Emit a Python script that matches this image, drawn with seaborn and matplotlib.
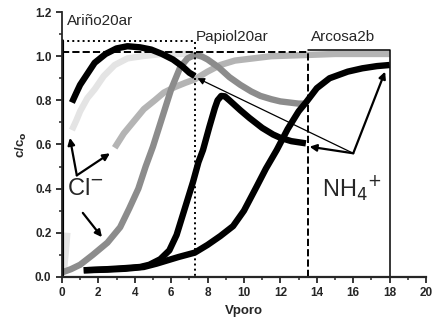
import matplotlib
matplotlib.use("Agg")
import matplotlib.pyplot as plt
import seaborn as sns
import pandas as pd

# Curvas (Vporo, c/co)
ario_nh4_x = [0.55, 0.8, 1.0, 1.4, 1.8, 2.4, 3.0, 3.6, 4.3, 4.9, 5.5, 6.1, 6.6, 7.0, 7.3]
ario_nh4_y = [0.79, 0.835, 0.87, 0.92, 0.97, 1.01, 1.035, 1.045, 1.04, 1.03, 1.01, 0.985, 0.955, 0.925, 0.91]

ario_cl_x = [0.55, 0.8, 1.0, 1.4, 1.8, 2.3, 2.9, 3.6, 4.4, 5.5, 6.5, 7.3]
ario_cl_y = [0.665, 0.71, 0.75, 0.81, 0.85, 0.91, 0.96, 0.99, 1.0, 1.01, 1.01, 1.01]
ario_cl_low_x = [0.1, 0.2, 0.3]
ario_cl_low_y = [0.02, 0.1, 0.2]

arcosa_cl_x = [2.9, 3.4, 4.0, 4.5, 5.1, 5.6, 6.2, 6.8, 7.3, 8.0, 8.7, 9.5, 10.5, 11.5, 13.3, 15.0, 18.0]
arcosa_cl_y = [0.585, 0.65, 0.71, 0.76, 0.80, 0.835, 0.86, 0.88, 0.895, 0.93, 0.96, 0.98, 0.99, 1.0, 1.005, 1.01, 1.01]

papiol_cl_x = [0.0, 0.5, 1.0, 1.7, 2.5, 3.2, 3.7, 4.2, 4.6, 5.0, 5.5, 6.0, 6.5, 6.9, 7.15, 7.4, 7.7,
               8.0, 8.6, 9.2, 9.8, 10.4, 10.9, 11.5, 12.0, 12.5, 13.0, 13.4]
papiol_cl_y = [0.02, 0.035, 0.055, 0.10, 0.155, 0.225, 0.31, 0.40, 0.50, 0.59, 0.72, 0.85, 0.95, 0.99, 1.0, 1.005, 0.998,
               0.985, 0.95, 0.905, 0.87, 0.84, 0.82, 0.805, 0.795, 0.79, 0.785, 0.785]

papiol_nh4_x = [1.2, 2.5, 3.5, 4.3, 4.8, 5.4, 5.9, 6.3, 6.6, 6.9, 7.2, 7.5, 7.75, 8.1, 8.4, 8.55, 8.75, 8.95,
                9.2, 9.8, 10.3, 11.0, 11.6, 12.0, 12.6, 13.4]
papiol_nh4_y = [0.03, 0.035, 0.04, 0.045, 0.055, 0.08, 0.12, 0.19, 0.27, 0.35, 0.43, 0.52, 0.575, 0.68, 0.765, 0.80, 0.82, 0.818,
                0.80, 0.755, 0.72, 0.675, 0.645, 0.63, 0.615, 0.605]

arcosa_nh4_x = [1.2, 2.5, 3.5, 4.5, 5.2, 5.8, 6.4, 7.3, 8.0, 8.7, 9.4, 10.0, 10.7, 11.2, 11.8,
                12.4, 13.0, 13.4, 14.0, 14.7, 15.7, 16.5, 17.3, 18.0]
arcosa_nh4_y = [0.03, 0.033, 0.037, 0.045, 0.06, 0.075, 0.09, 0.11, 0.145, 0.185, 0.23, 0.30, 0.41, 0.49, 0.575,
                0.67, 0.75, 0.79, 0.855, 0.90, 0.93, 0.945, 0.955, 0.96]

curvas = [
    (ario_cl_x, ario_cl_y, "#e4e4e4"),
    (ario_cl_low_x, ario_cl_low_y, "#e4e4e4"),
    (arcosa_cl_x, arcosa_cl_y, "#b4b4b4"),
    (papiol_cl_x, papiol_cl_y, "#8c8c8c"),
    (ario_nh4_x, ario_nh4_y, "black"),
    (papiol_nh4_x, papiol_nh4_y, "black"),
    (arcosa_nh4_x, arcosa_nh4_y, "black"),
]

sns.set_style("ticks")
plt.rcParams['font.family'] = ['Liberation Sans', 'DejaVu Sans']

fig = plt.figure(figsize=(4.42, 3.25), dpi=100)
ax = fig.add_axes([0.140, 0.148, 0.824, 0.815])

for x, y, c in curvas:
    df = pd.DataFrame({'Vporo': x, 'c': y})
    sns.lineplot(data=df, x='Vporo', y='c', color=c, lw=4.6, sort=False, ax=ax,
                 solid_capstyle='butt', solid_joinstyle='round')

# Cajas de cada columna
ax.plot([0, 7.3, 7.3], [1.07, 1.07, 0], color='black', lw=1.4, ls=':')
ax.plot([0, 13.5, 13.5], [1.02, 1.02, 0], color='black', lw=1.4, ls='--')
ax.plot([13.5, 18, 18], [1.03, 1.03, 0], color='black', lw=1.1, ls='-')
ax.plot([0, 0], [0, 1.07], color='black', lw=3)

ax.text(0.3, 1.16, "Ariño20ar", fontsize=11, va='center', ha='left')
ax.text(7.35, 1.085, "Papiol20ar", fontsize=11, va='center', ha='left')
ax.text(13.7, 1.085, "Arcosa2b", fontsize=11, va='center', ha='left')

ax.text(0.3, 0.40, "Cl$^{\\mathsf{-}}$", fontsize=17, va='center', ha='left')
ax.text(14.3, 0.40, "NH$_4$$^{+}$", fontsize=17, va='center', ha='left')

flecha = dict(arrowstyle='-|>', color='black', lw=1.6, mutation_scale=10, shrinkA=0, shrinkB=0)
ax.annotate("", xy=(0.44, 0.63), xytext=(0.82, 0.46), arrowprops=flecha)
ax.annotate("", xy=(2.64, 0.56), xytext=(0.82, 0.46), arrowprops=flecha)
ax.annotate("", xy=(2.2, 0.18), xytext=(1.15, 0.29), arrowprops=flecha)

ax.annotate("", xy=(7.45, 0.90), xytext=(16.0, 0.56),
            arrowprops=dict(arrowstyle='-|>', color='black', lw=0.9, mutation_scale=10, shrinkA=0, shrinkB=0))
ax.annotate("", xy=(13.6, 0.59), xytext=(16.0, 0.56), arrowprops=flecha)
ax.annotate("", xy=(17.75, 0.93), xytext=(16.0, 0.56), arrowprops=flecha)

ax.set_xlim(0, 20)
ax.set_ylim(0, 1.2)
ax.set_xticks(range(0, 21, 2))
ax.set_xticks(range(0, 21, 1), minor=True)
ax.set_yticks([0, 0.2, 0.4, 0.6, 0.8, 1.0, 1.2])
ax.set_yticks([i / 10 for i in range(13)], minor=True)
ax.set_yticklabels(["0.0", "0.2", "0.4", "0.6", "0.8", "1.0", "1.2"])
ax.tick_params(axis='both', which='major', labelsize=8.5, width=1.3, length=4)
ax.tick_params(axis='both', which='minor', width=1.1, length=2.5)
for lab in ax.get_xticklabels() + ax.get_yticklabels():
    lab.set_fontweight('bold')

ax.set_xlabel("Vporo", fontsize=9.5, fontweight='bold')
ax.set_ylabel("c/c$_\\mathbf{o}$", fontsize=9.5, fontweight='bold')
sns.despine(ax=ax)
ax.spines['left'].set_linewidth(1.3)
ax.spines['bottom'].set_linewidth(1.6)

fig.savefig("out.png", dpi=100)
